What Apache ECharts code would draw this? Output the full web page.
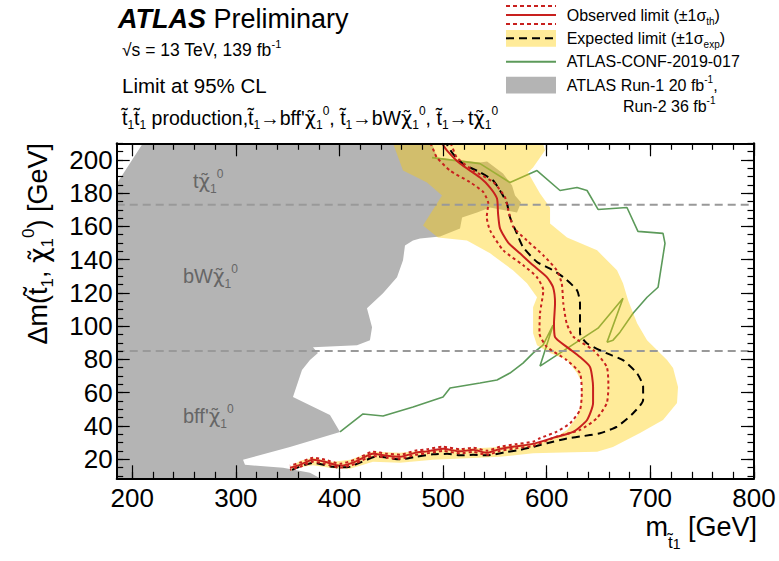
<!DOCTYPE html>
<html><head><meta charset="utf-8">
<script src="https://cdn.jsdelivr.net/npm/echarts@6/dist/echarts.min.js"></script>
<style>html,body{margin:0;padding:0;background:#fff}#c{width:779px;height:561px}</style>
</head><body><div id="c"></div>
<script>
const FONT = "'Liberation Sans', Arial, Helvetica, sans-serif";
const GFONT = "'DejaVu Sans', 'Liberation Sans', sans-serif";
// axis ranges and ticks
const xRange = [185, 800];
const yRange = [8.5, 210];
const xMajorTicks = [200, 300, 400, 500, 600, 700, 800];
const yMajorTicks = [20, 40, 60, 80, 100, 120, 140, 160, 180, 200];
const xMinorTicks = []; for (let v = 200; v <= 800; v += 20) xMinorTicks.push(v);
const yMinorTicks = []; for (let v = 10; v <= 210; v += 5) yMinorTicks.push(v);
const kinematicLines = [173, 85];

// Previous ATLAS Run-1 / Run-2 exclusion (grey)
const grayRegion = [[185,185.6],[210.3,210],[489.3,210],[494.1,201.4],[535.6,198.4],[542.4,199],[557.8,191.8],[566.5,184.6],[569.4,178.6],[575.2,174.4],[571.3,168.4],[545.3,171.4],[532.7,168.4],[518.3,165.4],[516.3,158.8],[497,154],[477.7,152.8],[470.9,151.6],[463.2,148.6],[461.3,139.6],[455.5,129.4],[442,119.8],[426.5,110.8],[431.4,99.4],[429.4,91.6],[416.9,88.6],[374.4,87.4],[379.2,83.8],[371.5,79.6],[363.8,73.6],[355.1,57.4],[390.8,46.6],[400.5,36.4],[352.2,27.4],[306.9,19.6],[308.8,16.6],[345.5,14.8],[371.5,11.8],[381.2,8.5],[185,8.5]];

// Expected +-1 sigma band (outer edge then inner edge)
const expBand = [[596.4,210],[598.3,205.6],[586.8,195.4],[581.9,192.4],[593.5,179.8],[603.2,171.4],[603.2,161.8],[619.6,153.4],[648.6,145.6],[667.8,133.6],[673.6,125.8],[678.5,115.6],[687.2,101.8],[696.8,91.6],[716.1,79.6],[721.9,74.8],[726.7,63.4],[725.7,53.8],[712.2,43.6],[690,35.8],[663.9,27.4],[648.6,24.4],[625.4,24.1],[586.8,23.5],[554.9,21.4],[523,20.5],[490.2,19.6],[458.4,17.8],[432.3,18.4],[410.1,14.2],[393.7,14.5],[374.4,16.3],[361.9,15.1],[353.2,13],
 [353.2,15.4],[361.9,19],[374.4,20.8],[393.7,18.4],[410.1,19.6],[432.3,24.4],[458.4,23.8],[490.2,25.6],[523,26.2],[554.9,27.4],[586.8,29.8],[606.1,32.2],[619.6,37.6],[629.2,45.4],[632.1,51.4],[634.1,65.8],[629.2,71.8],[619.6,79.6],[603.2,83.8],[590.6,88.6],[586.8,95.8],[586.8,111.4],[590.6,117.4],[580.9,125.8],[567.4,133.6],[545.3,143.8],[523,151.6],[495,153.4],[480.6,160.6],[498.9,178.6],[484.5,186.4],[461.3,193.6],[451.6,210]];

const expected = [[354.2,13.6],[374.4,17.8],[393.7,15.4],[407.2,15.1],[421.7,18.4],[436.2,21.7],[458.4,19.9],[472.9,21.4],[490.2,22.9],[503.8,23.2],[516.3,22.3],[528.9,22.6],[542.4,22.3],[561.7,24.4],[574.2,25.6],[586.8,27.4],[600.3,29.6],[619.6,32.5],[632.1,33.6],[651.4,35.6],[667.8,39.6],[683.3,47.6],[693,55.6],[693,63.6],[687.2,71.6],[673.6,79.6],[658.2,83.6],[638.9,89.6],[632.1,95.6],[632.1,113.6],[629.2,121.6],[615.7,129.6],[603.2,134.6],[590.6,138.6],[577.1,147.6],[571.3,155.6],[564.5,165.6],[561.7,173.6],[556.8,179.6],[548.2,187.6],[535.6,192.6],[519.2,197.6],[508.6,204.4],[503,210]];

const observed = [[352.2,14.8],[361.9,16.6],[374.4,19.6],[386,18.4],[400.5,16],[415,18.4],[432.3,23.2],[445.8,22],[458.4,21.4],[472.9,23.8],[484.5,24.7],[499.9,26.2],[516.3,24.7],[528.9,25.6],[542.4,23.8],[554.9,26.2],[569.4,27.7],[586.8,29.2],[606.1,32.8],[625.4,36.4],[638.9,43.6],[644.7,53.8],[644.7,63.4],[641.8,75.4],[632.1,81.4],[619.6,87.4],[608,93.4],[607,101.8],[608,113.8],[606.1,123.4],[600.3,129.4],[586.8,136.6],[574.2,143.8],[562.6,150.4],[554.9,158.8],[553,167.8],[552,176.8],[545.3,183.4],[535.6,189.4],[516.3,197.8],[503.8,205.6],[498.9,210]];

const obsTheoryDown = [[487.5,210],[489,208.6],[493.8,201.6],[506.7,193.6],[526,186.6],[538.8,180.6],[543.6,173.8],[542.1,165.6],[545.3,157.6],[558.1,145.6],[577.4,136.6],[590.3,129.6],[596.7,121.6],[593.5,107.8],[592.9,95.8],[600,87.6],[619.3,79.6],[632.1,71.6],[633.8,59.6],[632.1,49.6],[622.5,41.6],[609.7,36.6],[593.5,32.6],[586.8,30.5],[569.4,29],[554.9,27.5],[542.4,25.1],[528.9,26.9],[516.3,26],[499.9,27.5],[484.5,26],[472.9,25.1],[458.4,22.7],[445.8,23.3],[432.3,24.5],[415,19.7],[400.5,17.3],[386,19.7],[374.4,20.9],[361.9,17.9],[352.2,16.1]];

const obsTheoryUp = [[507,210],[508.3,208.6],[513.1,201.6],[529.2,193.6],[548.5,186.6],[559.7,177.6],[562.9,169.6],[567.8,159.6],[580.7,151.6],[596.7,142.6],[609.7,133.6],[614.5,125.6],[616,113.6],[619.3,101.6],[625.7,93.6],[644.9,85.6],[657.9,75.6],[659.5,63.6],[657.9,53.6],[648.3,44.6],[632.1,37.6],[609.7,33.6],[586.8,28],[569.4,26.5],[554.9,25],[542.4,22.6],[528.9,24.4],[516.3,23.5],[499.9,25],[484.5,23.5],[472.9,22.6],[458.4,20.2],[445.8,20.8],[432.3,22],[415,17.2],[400.5,14.8],[386,17.2],[374.4,18.4],[361.9,15.4],[352.2,13.6]];

const confNote = [[400.5,36.4],[422.7,47.2],[442,46],[471,51.4],[499.9,57.4],[506.7,62.8],[518.3,64],[535.6,65.8],[552,67.6],[564.5,71.8],[577.1,77.8],[586.8,83.8],[596.4,88.6],[606.1,100.6],[593.5,76],[649.5,98.8],[673.6,116.8],[658.2,90.4],[664,91.6],[670.7,96.4],[683.3,107.8],[696.8,117.4],[707.4,123.4],[714.1,149.8],[712.2,155.8],[688,157],[677.4,171.4],[649.5,170.2],[638.9,181.6],[629.2,183.4],[612.8,181.6],[590.6,193.6],[564.5,186.4],[535.6,197.8],[489.3,201.4]];

const RED = '#c8201e', GREEN = '#5c9a5a', GRAY = '#b4b4b4', YEL = 'rgba(255,204,0,0.4)';

function xAx(pos, ticks, len, labels, line) {
  return {type:'value', position:pos, min:xRange[0], max:xRange[1], z:10,
    axisLine:{show:line, onZero:false, lineStyle:{color:'#000', width:2}},
    axisTick:{show:true, inside:true, length:len, customValues:ticks, lineStyle:{color:'#000', width:1.2}},
    axisLabel:{show:labels, customValues:xMajorTicks, margin:7, fontSize:26, fontFamily:FONT, color:'#000'},
    splitLine:{show:false}};
}
function yAx(pos, ticks, len, labels, line) {
  return {type:'value', position:pos, min:yRange[0], max:yRange[1], z:10,
    axisLine:{show:line, onZero:false, lineStyle:{color:'#000', width:2}},
    axisTick:{show:true, inside:true, length:len, customValues:ticks, lineStyle:{color:'#000', width:1.2}},
    axisLabel:{show:labels, customValues:yMajorTicks, margin:4, fontSize:26, fontFamily:FONT, color:'#000'},
    splitLine:{show:false}};
}
function polySeries(name, pts, fill, z) {
  return {type:'custom', name:name, z:z, silent:true, data:[[pts[0][0], pts[0][1]]],
    renderItem: function (params, api) {
      return {type:'polygon', shape:{points: pts.map(function (p) { return api.coord(p); })}, style:{fill:fill, lineWidth:0}};
    }};
}
function lineSeries(name, pts, color, width, dash, z, smooth) {
  return {type:'line', name:name, data:pts, z:z, symbol:'none', showSymbol:false, silent:true, smooth:smooth || false,
    lineStyle:{color:color, width:width, type:dash || 'solid', cap:'butt'}, emphasis:{disabled:true}};
}

const series = [
  polySeries('ATLAS Run-1/Run-2', grayRegion, GRAY, 1),
  lineSeries('ATLAS-CONF-2019-017', confNote, GREEN, 1.6, 'solid', 2, false),
  polySeries('Expected band', expBand, YEL, 3),
  lineSeries('mtop', [[xRange[0], kinematicLines[0]], [xRange[1], kinematicLines[0]]], '#999', 2, [8,5], 4),
  lineSeries('mW', [[xRange[0], kinematicLines[1]], [xRange[1], kinematicLines[1]]], '#999', 2, [8,5], 4),
  lineSeries('Expected limit', expected, '#000', 2, [8,5], 5, 0.2),
  lineSeries('Obs -1sigma', obsTheoryDown, RED, 2, [3,3], 6, 0.2),
  lineSeries('Obs +1sigma', obsTheoryUp, RED, 2, [3,3], 6, 0.2),
  lineSeries('Observed limit', observed, RED, 2, 'solid', 7, 0.2)
];

// neutralino symbol: chi with combining tilde, then subscript 1 and superscript 0
const CHI = '{c|\u03C7\u0303}{s|1}{p|0}';

function txt(x, y, text, size, opts) {
  opts = opts || {};
  const s = size;
  const col = opts.color || '#000';
  const lh = Math.round(s * (opts.lh || 1.35));
  return {type:'text', x:x, y:y, z:100, rotation: opts.rotation || 0, silent:true,
    style:{text:text, fontSize:s, fontFamily:FONT, fill: col, align: opts.align || 'left', verticalAlign:'middle',
      lineHeight: lh,
      rich:{
        b:{fontSize:s, fontFamily:FONT, fontWeight:'bold', fontStyle:'italic', fill:'#000', lineHeight: lh},
        c:{fontSize:s, fontFamily:GFONT, fill: col, lineHeight: lh},
        p:{fontSize:Math.round(s*0.62), fontFamily:FONT, fill: col, verticalAlign:'top'},
        s:{fontSize:Math.round(s*0.62), fontFamily:FONT, fill: col, verticalAlign:'bottom'},
        ss:{fontSize:Math.round(s*0.5), fontFamily:FONT, fill: col, verticalAlign:'bottom'}
      }}};
}
function gline(x1, y1, x2, y2, color, w, dash) {
  return {type:'line', z:100, silent:true, shape:{x1:x1, y1:y1, x2:x2, y2:y2}, style:{stroke:color, lineWidth:w, lineDash: dash || null}};
}

const graphic = [
  txt(118, 19, '{b|ATLAS} Preliminary', 27),
  txt(122, 50, '\u221As = 13 TeV, 139 fb{p|-1}', 17.5),
  txt(122, 85, 'Limit at 95% CL', 20.5),
  txt(122, 118, 't\u0303{s|1}t\u0303{s|1} production,t\u0303{s|1}\u2192bff\'' + CHI + ', t\u0303{s|1}\u2192bW' + CHI + ', t\u0303{s|1}\u2192t' + CHI, 19.5),
  // legend
  gline(506, 6, 556, 6, RED, 2, [4,3]),
  gline(506, 15, 556, 15, RED, 2),
  gline(506, 24, 556, 24, RED, 2, [4,3]),
  {type:'rect', z:99, silent:true, shape:{x:506, y:30, width:50, height:16.7}, style:{fill:'#ffeb99'}},
  gline(506, 38.3, 556, 38.3, '#000', 2, [8,5]),
  gline(506, 61.7, 556, 61.7, GREEN, 2),
  {type:'rect', z:99, silent:true, shape:{x:506, y:76.7, width:50, height:16.7}, style:{fill:GRAY}},
  txt(566.7, 15, 'Observed limit (\u00B11\u03C3{s|th})', 16),
  txt(566.7, 38, 'Expected limit (\u00B11\u03C3{s|exp})', 16),
  txt(566.7, 61.5, 'ATLAS-CONF-2019-017', 16),
  txt(566.7, 85, 'ATLAS Run-1 20 fb{p|-1},', 16),
  txt(623, 106, 'Run-2 36 fb{p|-1}', 16),
  // region labels
  txt(193, 181, 't' + CHI, 20, {color:'#666'}),
  txt(183, 276, 'bW' + CHI, 20, {color:'#666'}),
  txt(183, 416, 'bff\'' + CHI, 20, {color:'#666'}),
  // axis titles
  txt(757, 527, 'm{s|t\u0303}{ss|1} [GeV]', 27, {align:'right', lh:1.75}),
  txt(38, 143, '\u0394m(t\u0303{s|1}, ' + CHI + ') [GeV]', 27, {align:'right', rotation:Math.PI/2})
];

const chart = echarts.init(document.getElementById('c'), null, {renderer:'svg'});
chart.setOption({
  animation:false,
  backgroundColor:'#fff',
  grid:{left:116.7, right:25, top:143.3, bottom:82.7, containLabel:false, outerBoundsMode:'none'},
  xAxis:[xAx('bottom', xMajorTicks, 13, true, true), xAx('bottom', xMinorTicks, 6.5, false, false),
         xAx('top', xMajorTicks, 13, false, true), xAx('top', xMinorTicks, 6.5, false, false)],
  yAxis:[yAx('left', yMajorTicks, 13, true, true), yAx('left', yMinorTicks, 6.5, false, false),
         yAx('right', yMajorTicks, 13, false, true), yAx('right', yMinorTicks, 6.5, false, false)],
  series:series,
  graphic:graphic
});
</script></body></html>
